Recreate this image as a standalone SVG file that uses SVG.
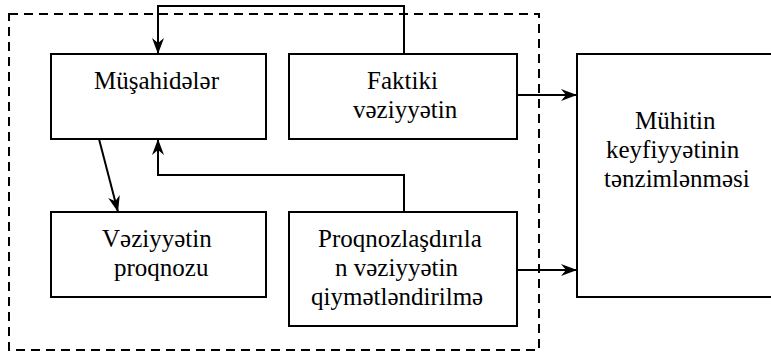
<svg xmlns="http://www.w3.org/2000/svg" width="771" height="353" viewBox="0 0 771 353">
<style>
.box{fill:#fff;stroke:#000;stroke-width:2}
.con{fill:none;stroke:#000;stroke-width:2}
.frame{fill:none;stroke:#000;stroke-width:2;stroke-dasharray:9,6}
</style>
<defs>
<marker id="arr" markerUnits="userSpaceOnUse" viewBox="-16 -7 17 14" refX="0" refY="0" markerWidth="17" markerHeight="14" orient="auto">
<path d="M0,0 L-16,-6 L-11,0 L-16,6 Z" fill="#000"/>
</marker>
</defs>
<rect class="frame" x="9" y="14" width="530" height="336"/>
<g id="n-musahideler">
<rect class="box" x="51" y="54" width="215" height="85"/>
<text font-family="Times New Roman" font-size="25" x="94" y="89">Müşahidələr</text>
</g>
<g id="n-faktiki">
<rect class="box" x="289" y="54" width="228" height="85"/>
<text font-family="Times New Roman" font-size="25" x="367" y="89">Faktiki</text>
<text font-family="Times New Roman" font-size="25" x="353" y="118">vəziyyətin</text>
</g>
<g id="n-proqnozu">
<rect class="box" x="51" y="212" width="215" height="85"/>
<text font-family="Times New Roman" font-size="25" x="102" y="247">Vəziyyətin</text>
<text font-family="Times New Roman" font-size="25" x="114" y="276">proqnozu</text>
</g>
<g id="n-qiymet">
<rect class="box" x="289" y="212" width="228" height="114"/>
<text font-family="Times New Roman" font-size="25" x="318" y="247">Proqnozlaşdırıla</text>
<text font-family="Times New Roman" font-size="25" x="335" y="276">n vəziyyətin</text>
<text font-family="Times New Roman" font-size="25" x="311" y="305">qiymətləndirilmə</text>
</g>
<g id="n-muhit">
<rect class="box" x="577" y="54" width="200" height="243"/>
<text font-family="Times New Roman" font-size="25" x="635" y="129">Mühitin</text>
<text font-family="Times New Roman" font-size="25" x="606" y="158">keyfiyyətinin</text>
<text font-family="Times New Roman" font-size="25" x="604" y="187">tənzimlənməsi</text>
</g>
<g id="connectors">
<path class="con" d="M404,54 V6 H158 V54" marker-end="url(#arr)"/>
<path class="con" d="M404,212 V175 H158 V139" marker-end="url(#arr)"/>
<path class="con" d="M99,139 L118,212" marker-end="url(#arr)"/>
<path class="con" d="M517,95 H577" marker-end="url(#arr)"/>
<path class="con" d="M517,270 H577" marker-end="url(#arr)"/>
</g>
</svg>
